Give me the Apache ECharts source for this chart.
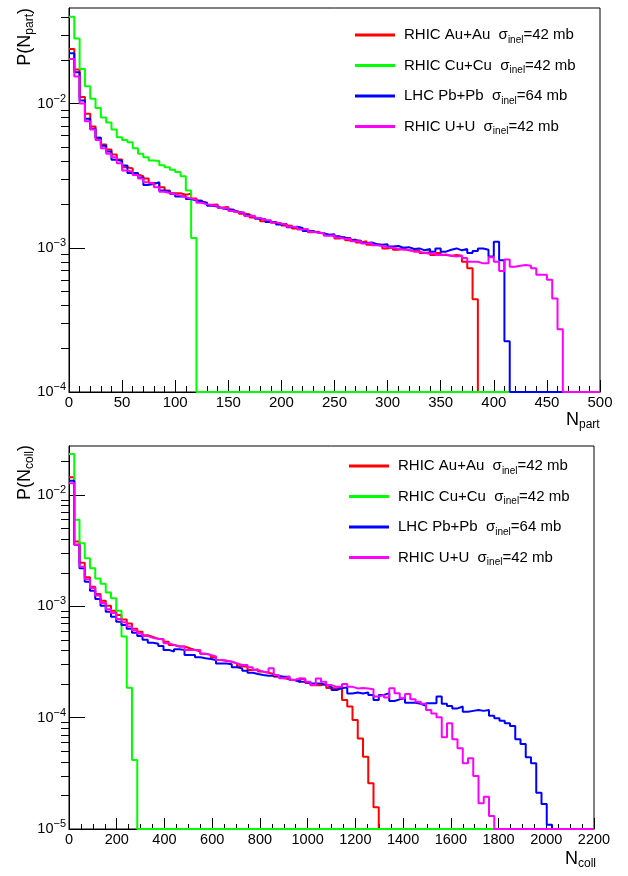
<!DOCTYPE html>
<html><head><meta charset="utf-8">
<script src="https://cdn.jsdelivr.net/npm/echarts@6/dist/echarts.min.js"></script>
<style>html,body{margin:0;padding:0;background:#fff}#c{width:628px;height:876px}</style>
</head><body><div id="c"></div>
<script>
// ---------- data ----------
const systems = ['RHIC Au+Au', 'RHIC Cu+Cu', 'LHC Pb+Pb', 'RHIC U+U'];
const sigmaInel = ['42', '42', '64', '42'];
const colors = ['#ff0000', '#00ff00', '#0000ff', '#ff00ff'];

// N_part histograms: 100 bins of width 5 on [0,500]; bins not listed are empty
const npartBinWidth = 5;
const npartBins = 100;
const npartAuAu = [0.0239,0.0172,0.0111,0.0085,0.00693,0.0058,0.0052,0.00481,0.00444,0.0041,
 0.00362,0.00355,0.00323,0.00314,0.00302,0.00281,0.00281,0.00263,0.0025,0.00239,
 0.00239,0.00233,0.00237,0.0022,0.00213,0.00206,0.00199,0.002,0.0019,0.00192,
 0.00184,0.00178,0.00172,0.00171,0.00162,0.0016,0.00153,0.00154,0.00149,0.00148,
 0.00143,0.00142,0.00136,0.00135,0.00133,0.00128,0.00129,0.00125,0.00122,0.00121,
 0.00116,0.00119,0.00113,0.00114,0.00109,0.00111,0.00105,0.00106,0.00104,0.00099,
 0.00101,0.00097,0.00099,0.00096,0.00095,0.00096,0.00092,0.00093,0.00089,0.00092,
 0.00089,0.00088,0.00089,0.00088,0.0008,0.00072,0.00044];
const npartCuCu = [0.040,0.0283,0.0174,0.0132,0.0108,0.0093,0.0080,0.0074,0.0066,0.00585,
 0.0056,0.0054,0.0049,0.00449,0.00425,0.00403,0.0040,0.00374,0.00362,0.00348,
 0.00335,0.00314,0.0025,0.00117];
const npartPbPb = [0.0223,0.0165,0.0105,0.00784,0.00668,0.0058,0.0051,0.00466,0.00408,0.004,
 0.00372,0.0033,0.0033,0.00307,0.00273,0.00277,0.00285,0.0025,0.00245,0.00237,
 0.00227,0.00227,0.00218,0.00213,0.0021,0.00204,0.00196,0.00193,0.00187,0.00185,
 0.00182,0.00177,0.00175,0.00168,0.00165,0.00159,0.00158,0.00151,0.00151,0.00145,
 0.00146,0.00139,0.0014,0.00137,0.00131,0.00131,0.00127,0.00126,0.00123,0.00124,
 0.0012,0.00117,0.00117,0.00113,0.00112,0.00108,0.00109,0.00106,0.00105,0.00106,
 0.00102,0.00103,0.001,0.00101,0.00098,0.00099,0.00096,0.00098,0.00094,0.00099,
 0.00094,0.00097,0.00099,0.00096,0.00098,0.00092,0.00095,0.00099,0.00097,0.00087,
 0.0011,0.00082,0.000225];
const npartUU = [0.0204,0.0154,0.01,0.00755,0.0066,0.0056,0.0049,0.00449,0.00425,0.00386,
 0.00344,0.00335,0.0032,0.00302,0.00285,0.00277,0.00263,0.00245,0.0024,0.00235,
 0.0023,0.00224,0.0022,0.00215,0.00205,0.002,0.00197,0.00196,0.00189,0.00188,
 0.0018,0.00176,0.00176,0.00166,0.00167,0.00161,0.00156,0.00155,0.0015,0.00147,
 0.00145,0.0014,0.00139,0.00134,0.00135,0.00129,0.00127,0.00126,0.00121,0.00122,
 0.00118,0.00115,0.00116,0.00111,0.00111,0.00107,0.00108,0.00104,0.00103,0.00101,
 0.001,0.00098,0.00097,0.00097,0.00094,0.00094,0.00092,0.00091,0.00092,0.00089,
 0.0009,0.00088,0.00087,0.00088,0.00085,0.0008,0.0008,0.00078,0.00078,0.00086,
 0.0008,0.00069,0.00083,0.00074,0.00075,0.00076,0.00075,0.00072,0.00065,0.00065,
 0.0006,0.000445,0.000272];

// N_coll histograms: 100 bins of width 22 on [0,2200]; bins not listed are empty
const ncollBinWidth = 22;
const ncollBins = 100;
const ncollAuAu = [0.01442,0.00381,0.00246,0.00182,0.0015,0.00129,0.00112,0.00101,0.00091,0.000835,
 0.000762,0.000701,0.00063,0.00059,0.00055,0.00053,0.00051,0.000505,0.00048,0.00045,
 0.000435,0.000435,0.00042,0.000406,0.000392,0.000374,0.000366,0.000348,0.00033,0.000325,
 0.000318,0.000307,0.00029,0.000287,0.000268,0.000272,0.000259,0.000253,0.000247,0.000233,
 0.000226,0.000221,0.000218,0.00021,0.000222,0.000205,0.000195,0.000195,0.0002,0.000185,
 0.000183,0.000186,0.000144,0.000126,0.0000953,0.000065,0.0000446,0.0000258,0.0000157];
const ncollCuCu = [0.0233,0.00597,0.00368,0.0027,0.00219,0.00178,0.00159,0.00133,0.00118,0.000914,
 0.000534,0.000186,0.0000417];
const ncollPbPb = [0.01343,0.00356,0.00219,0.00166,0.00138,0.00116,0.00101,0.000895,0.000807,0.000728,
 0.00068,0.00063,0.00058,0.00054,0.0005,0.00047,0.00046,0.00044,0.000406,0.000392,
 0.000412,0.000406,0.000366,0.000366,0.000348,0.000341,0.000336,0.00033,0.000307,0.000307,
 0.000301,0.000284,0.000277,0.000264,0.000253,0.000247,0.000242,0.000238,0.000238,0.000236,
 0.000233,0.000233,0.000218,0.00021,0.00021,0.000203,0.000203,0.000203,0.000196,0.00019,
 0.000177,0.000184,0.000187,0.000165,0.000168,0.000165,0.000168,0.00016,0.000144,0.00016,
 0.000166,0.000141,0.000146,0.000149,0.000136,0.000136,0.000133,0.000128,0.000135,0.000135,
 0.000155,0.000133,0.000127,0.000121,0.000126,0.000113,0.000115,0.000117,0.000115,0.000117,
 0.000104,0.0000986,0.000094,0.000089,0.0000842,0.0000639,0.000058,0.000044,0.0000389,0.0000212,
 0.0000168,0.0000109];
const ncollUU = [0.01273,0.00356,0.00227,0.00175,0.00146,0.00125,0.00107,0.00094,0.00087,0.00077,
 0.00072,0.00066,0.00061,0.00057,0.00054,0.00052,0.00051,0.000505,0.000466,0.00045,
 0.000435,0.000435,0.000406,0.000406,0.000406,0.000374,0.000366,0.000354,0.00033,0.000325,
 0.000318,0.000307,0.000297,0.000297,0.000283,0.000268,0.000259,0.000253,0.000277,0.000242,
 0.000226,0.000234,0.000218,0.000226,0.000225,0.00021,0.000196,0.000225,0.00021,0.000196,
 0.000189,0.000189,0.0002,0.000189,0.000183,0.000185,0.000183,0.00018,0.000155,0.00016,
 0.000152,0.000184,0.000166,0.000149,0.000163,0.000146,0.000139,0.000133,0.000117,0.000109,
 0.000101,0.0000666,0.000089,0.0000639,0.0000531,0.0000389,0.0000431,0.0000299,0.000017,0.0000195,
 0.0000131];

// axes
const npartAxis = {min: 0, max: 500, interval: 50};
const ncollAxis = {min: 0, max: 2200, interval: 200};
const yDecadesTop = [1e-4, 1e-3, 1e-2];
const yDecadesBottom = [1e-5, 1e-4, 1e-3, 1e-2];
const yMaxTop = 0.046;
const yMaxBottom = 0.0275;
const minorMultipliers = [2, 3, 4, 5, 6, 7, 8, 9];

// ---------- build ----------
const FONT = '"Liberation Sans", Arial, Helvetica, sans-serif';

function histPoints(values, binWidth, nBins, floor) {
  const pts = [];
  for (let i = 0; i < nBins; i++) {
    const v = i < values.length ? values[i] : 0;
    pts.push([i * binWidth, v > 0 ? v : floor]);
  }
  pts.push([nBins * binWidth, pts[pts.length - 1][1]]);
  return pts;
}
function minorValues(decades, max) {
  const out = [];
  decades.forEach(d => minorMultipliers.forEach(m => { const v = d * m; if (v < max) out.push(v); }));
  return out;
}
function expLabel(v) {
  const e = Math.round(Math.log10(v));
  return '{b|10}{s|' + (e < 0 ? '\u2212' : '') + Math.abs(e) + '}';
}
const labelRich = {
  b: {fontSize: 14.5, fontFamily: FONT, color: '#000', lineHeight: 20},
  s: {fontSize: 11, fontFamily: FONT, color: '#000', lineHeight: 11, padding: [0, 0, 10, 0]}
};

function xAxisCfg(grid, ax, split, len, minorLen, fs) {
  return {
    type: 'value', gridIndex: grid, min: ax.min, max: ax.max, interval: ax.interval,
    axisLine: {show: true, onZero: false, lineStyle: {color: '#000', width: 1}},
    axisTick: {show: true, inside: true, length: len, lineStyle: {color: '#000', width: 1}},
    minorTick: {show: true, splitNumber: split, length: minorLen, lineStyle: {color: '#000', width: 1}},
    axisLabel: {show: true, interval: 0, margin: 3, fontSize: fs, fontFamily: FONT, color: '#000',
                formatter: v => String(v)},
    splitLine: {show: false}, minorSplitLine: {show: false}
  };
}
function yMajorCfg(grid, decades, max) {
  return {
    type: 'log', logBase: 10, gridIndex: grid, min: decades[0], max: max,
    axisLine: {show: true, onZero: false, lineStyle: {color: '#000', width: 1}},
    axisTick: {show: true, inside: true, length: 16, customValues: decades, lineStyle: {color: '#000', width: 1}},
    axisLabel: {show: true, margin: 3, customValues: decades, formatter: expLabel, rich: labelRich},
    splitLine: {show: false}
  };
}
function yMinorCfg(grid, decades, max) {
  return {
    type: 'log', logBase: 10, gridIndex: grid, min: decades[0], max: max,
    axisLine: {show: false},
    axisTick: {show: true, inside: true, length: 8, customValues: minorValues(decades, max), lineStyle: {color: '#000', width: 1}},
    axisLabel: {show: false},
    splitLine: {show: false}
  };
}

const npartSets = [npartAuAu, npartCuCu, npartPbPb, npartUU];
const ncollSets = [ncollAuAu, ncollCuCu, ncollPbPb, ncollUU];
const series = [];
npartSets.forEach((vals, i) => series.push({
  type: 'line', name: systems[i], xAxisIndex: 0, yAxisIndex: 0, step: 'end',
  data: histPoints(vals, npartBinWidth, npartBins, yDecadesTop[0]),
  symbol: 'none', showSymbol: false, clip: true,
  lineStyle: {color: colors[i], width: 2}, itemStyle: {color: colors[i]}
}));
ncollSets.forEach((vals, i) => series.push({
  type: 'line', name: systems[i], xAxisIndex: 1, yAxisIndex: 2, step: 'end',
  data: histPoints(vals, ncollBinWidth, ncollBins, yDecadesBottom[0]),
  symbol: 'none', showSymbol: false, clip: true,
  lineStyle: {color: colors[i], width: 2}, itemStyle: {color: colors[i]}
}));

const legendRich = {
  s: {fontSize: 10, fontFamily: FONT, color: '#000', lineHeight: 10, padding: [10, 0, 0, 0]}
};
function legendCfg(left, top) {
  return {
    orient: 'vertical', left: left, top: top, padding: 0, itemGap: 10.5,
    itemWidth: 40, itemHeight: 3, icon: 'rect', data: systems, selectedMode: false,
    formatter: name => {
      const i = systems.indexOf(name);
      return name + '  \u03c3{s|inel}=' + sigmaInel[i] + ' mb';
    },
    textStyle: {fontSize: 15, fontFamily: FONT, color: '#000', lineHeight: 20, padding: [0, 0, 0, 4], rich: legendRich}
  };
}
const titleRich = {s: {fontSize: 12, fontFamily: FONT, fill: '#000', lineHeight: 12, padding: [10, 0, 0, 0]}};
function titleText(x, y, main, sub, rotate, align) {
  return {
    type: 'text', x: x, y: y, rotation: rotate ? Math.PI / 2 : 0, silent: true,
    style: {
      text: main[0] + '{s|' + sub + '}' + (main[1] || ''),
      fontSize: 18, fontFamily: FONT, fill: '#000', align: align, verticalAlign: 'middle',
      rich: titleRich
    }
  };
}

const option = {
  animation: false,
  backgroundColor: '#fff',
  grid: [
    {left: 69, right: 28, top: 8, bottom: 484, show: true, borderColor: '#000', borderWidth: 1, containLabel: false},
    {left: 69, right: 34, top: 446, bottom: 47, show: true, borderColor: '#000', borderWidth: 1, containLabel: false}
  ],
  xAxis: [xAxisCfg(0, npartAxis, 5, 12, 6, 15), xAxisCfg(1, ncollAxis, 4, 11, 5, 14.5)],
  yAxis: [yMajorCfg(0, yDecadesTop, yMaxTop), yMinorCfg(0, yDecadesTop, yMaxTop),
          yMajorCfg(1, yDecadesBottom, yMaxBottom), yMinorCfg(1, yDecadesBottom, yMaxBottom)],
  legend: [legendCfg(355, 25), legendCfg(349, 456)],
  graphic: [
    titleText(25, 8, ['P(N', ')'], 'part', true, 'right'),
    titleText(25, 445, ['P(N', ')'], 'coll', true, 'right'),
    titleText(566, 420, ['N', ''], 'part', false, 'left'),
    titleText(565, 859, ['N', ''], 'coll', false, 'left')
  ],
  series: series
};
const chart = echarts.init(document.getElementById('c'), null, {renderer: 'canvas'});
chart.setOption(option);
</script></body></html>
